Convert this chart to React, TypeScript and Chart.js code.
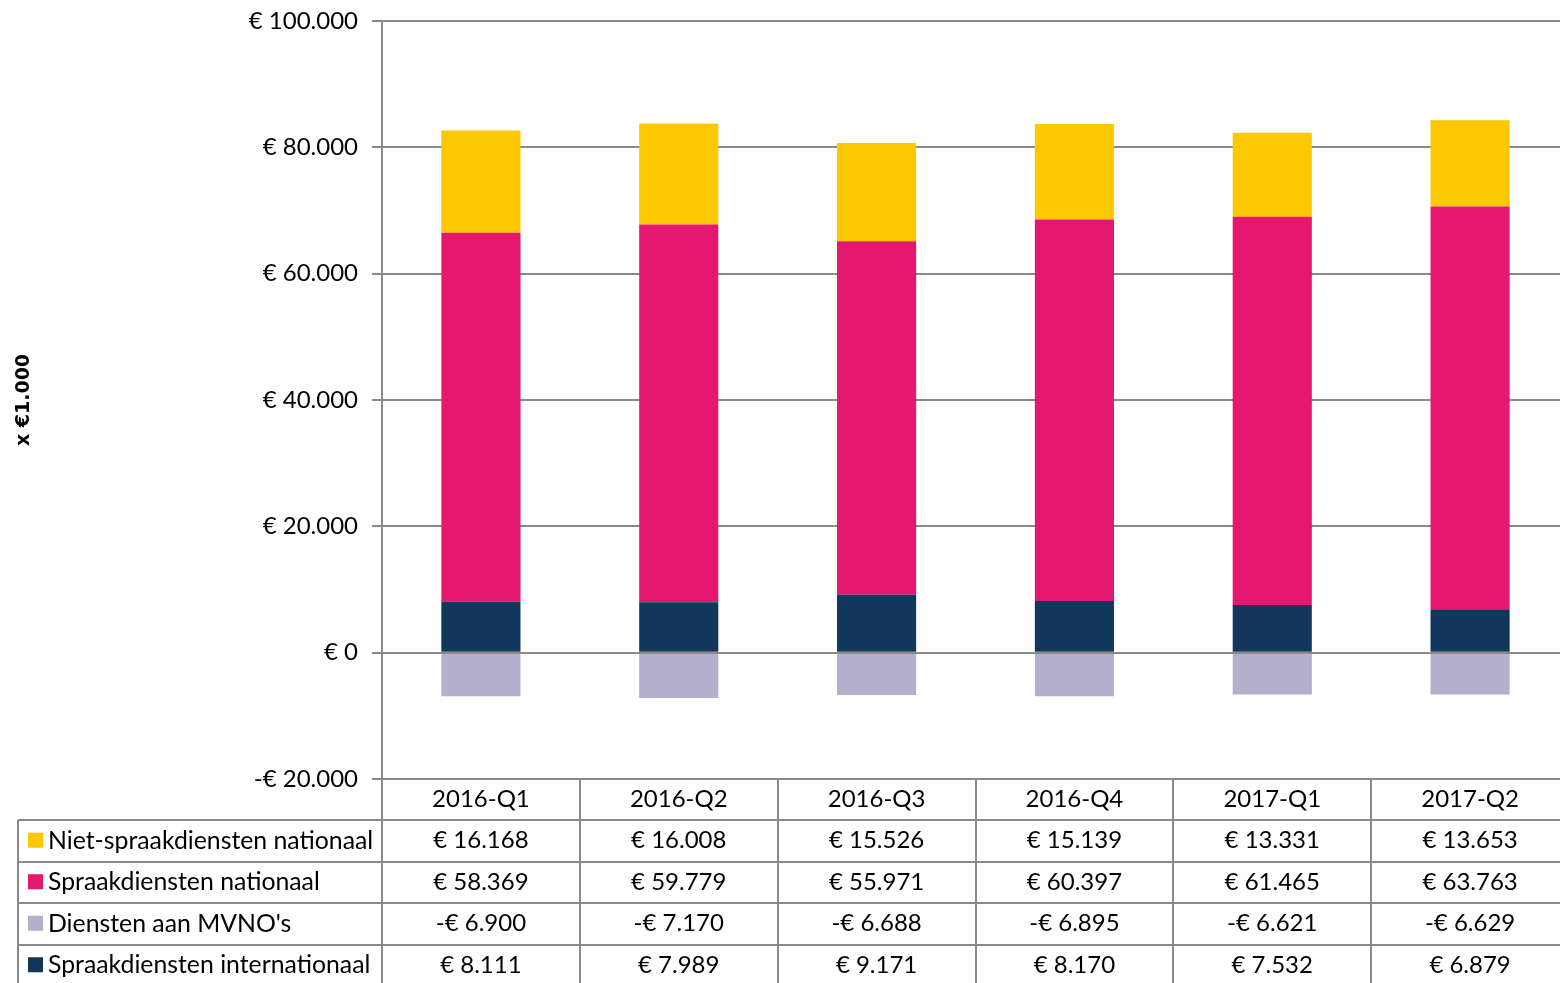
import React, { useEffect, useRef } from "react";
import { Chart, registerables } from "chart.js";

Chart.register(...registerables);

const categories = ["2016-Q1", "2016-Q2", "2016-Q3", "2016-Q4", "2017-Q1", "2017-Q2"];
const nietSpraakNationaal = [16168, 16008, 15526, 15139, 13331, 13653];
const spraakNationaal = [58369, 59779, 55971, 60397, 61465, 63763];
const dienstenMvno = [-6900, -7170, -6688, -6895, -6621, -6629];
const spraakInternationaal = [8111, 7989, 9171, 8170, 7532, 6879];
const yTicks = [-20000, 0, 20000, 40000, 60000, 80000, 100000];

const COLORS = {
  niet: "#FCC800",
  spraak: "#E5176F",
  mvno: "#B4AFCD",
  intl: "#12375A",
};
const GRID = "#8a8a8a";
const FONT = "Lato";
const FONT_SIZE = 24;

function fmt(v: number): string {
  const abs = Math.abs(v);
  const s = abs.toString().replace(/\B(?=(\d{3})+(?!\d))/g, ".");
  return (v < 0 ? "-€ " : "€ ") + s;
}

const tableRows = [
  { label: "Niet-spraakdiensten nationaal", color: COLORS.niet, data: nietSpraakNationaal },
  { label: "Spraakdiensten nationaal", color: COLORS.spraak, data: spraakNationaal },
  { label: "Diensten aan MVNO's", color: COLORS.mvno, data: dienstenMvno },
  { label: "Spraakdiensten internationaal", color: COLORS.intl, data: spraakInternationaal },
];

const tablePlugin = {
  id: "dataTable",
  afterDatasetsDraw(chart: any) {
    const ctx = chart.ctx as CanvasRenderingContext2D;
    const area = chart.chartArea;
    const y = chart.scales.y;
    ctx.save();
    const y0 = Math.round(y.getPixelForValue(0));
    ctx.strokeStyle = GRID;
    ctx.lineWidth = 2;
    ctx.beginPath();
    ctx.moveTo(area.left, y0);
    ctx.lineTo(area.right, y0);
    ctx.stroke();
    ctx.restore();
  },
  afterDraw(chart: any) {
    const ctx = chart.ctx as CanvasRenderingContext2D;
    const area = chart.chartArea;
    const n = categories.length;
    const colW = (area.right - area.left) / n;
    const top = area.bottom;
    const headerH = 41;
    const rowH = 41.5;
    const tableLeft = 18;
    const bottom = chart.height + 2;
    ctx.save();
    ctx.strokeStyle = GRID;
    ctx.lineWidth = 2;
    for (let i = 0; i <= n; i++) {
      const x = Math.round(area.left + i * colW);
      ctx.beginPath();
      ctx.moveTo(x, top);
      ctx.lineTo(x, bottom);
      ctx.stroke();
    }
    const firstRowTop = top + headerH;
    ctx.beginPath();
    ctx.moveTo(tableLeft, firstRowTop);
    ctx.lineTo(tableLeft, bottom);
    ctx.stroke();
    for (let r = 0; r < tableRows.length; r++) {
      const yy = Math.round(firstRowTop + r * rowH);
      ctx.beginPath();
      ctx.moveTo(tableLeft, yy);
      ctx.lineTo(area.right, yy);
      ctx.stroke();
    }
    ctx.fillStyle = "#000";
    ctx.font = `${FONT_SIZE}px ${FONT}`;
    ctx.textAlign = "center";
    ctx.textBaseline = "middle";
    for (let i = 0; i < n; i++) {
      const cx = area.left + (i + 0.5) * colW;
      ctx.fillText(categories[i], cx, top + headerH / 2);
    }
    tableRows.forEach((row, r) => {
      const cy = firstRowTop + r * rowH + rowH / 2;
      ctx.fillStyle = row.color;
      ctx.fillRect(28, cy - 8, 15, 15);
      ctx.fillStyle = "#000";
      ctx.textAlign = "left";
      ctx.font = `24.8px ${FONT}`;
      ctx.fillText(row.label, 48, cy);
      ctx.font = `${FONT_SIZE}px ${FONT}`;
      ctx.textAlign = "center";
      row.data.forEach((v, i) => {
        const cx = area.left + (i + 0.5) * colW;
        ctx.fillText(fmt(v), cx, cy);
      });
    });
    ctx.save();
    ctx.translate(24, (area.top + area.bottom) / 2);
    ctx.rotate(-Math.PI / 2);
    ctx.font = `bold 19px "DejaVu Sans"`;
    ctx.textAlign = "center";
    ctx.textBaseline = "middle";
    ctx.fillStyle = "#000";
    ctx.fillText("x €1.000", 0, 0);
    ctx.restore();
    ctx.restore();
  },
};

export default function App() {
  const ref = useRef<HTMLCanvasElement | null>(null);
  useEffect(() => {
    document.body.style.margin = "0";
    const canvas = ref.current!;
    const chart = new Chart(canvas, {
      type: "bar",
      data: {
        labels: categories,
        datasets: [
          { label: "Spraakdiensten internationaal", data: spraakInternationaal, backgroundColor: COLORS.intl },
          { label: "Spraakdiensten nationaal", data: spraakNationaal, backgroundColor: COLORS.spraak },
          { label: "Niet-spraakdiensten nationaal", data: nietSpraakNationaal, backgroundColor: COLORS.niet },
          { label: "Diensten aan MVNO's", data: dienstenMvno, backgroundColor: COLORS.mvno },
        ],
      },
      options: {
        animation: false,
        responsive: false,
        devicePixelRatio: 1,
        layout: { padding: { top: 21, right: 0, bottom: 983 - 779, left: 0 } },
        plugins: { legend: { display: false }, tooltip: { enabled: false } },
        datasets: { bar: { categoryPercentage: 1, barPercentage: 0.4 } },
        scales: {
          x: {
            stacked: true,
            display: false,
          },
          y: {
            stacked: true,
            min: -20000,
            max: 100000,
            afterFit(scale: any) {
              scale.width = 382;
              scale.paddingTop = 0;
              scale.paddingBottom = 0;
            },
            afterBuildTicks(scale: any) {
              scale.ticks = yTicks.map((v) => ({ value: v }));
            },
            ticks: {
              padding: 14,
              color: "#000",
              font: { family: FONT, size: FONT_SIZE },
              callback: (v: any) => fmt(Number(v)),
            },
            grid: {
              color: GRID,
              lineWidth: 2,
              tickLength: 10,
            },
            border: { color: GRID, width: 2 },
          },
        },
      },
      plugins: [tablePlugin],
    });
    return () => chart.destroy();
  }, []);
  return (
    <div style={{ width: 1560, height: 983, overflow: "hidden" }}>
      <canvas ref={ref} width={1569} height={983} style={{ display: "block" }} />
    </div>
  );
}
